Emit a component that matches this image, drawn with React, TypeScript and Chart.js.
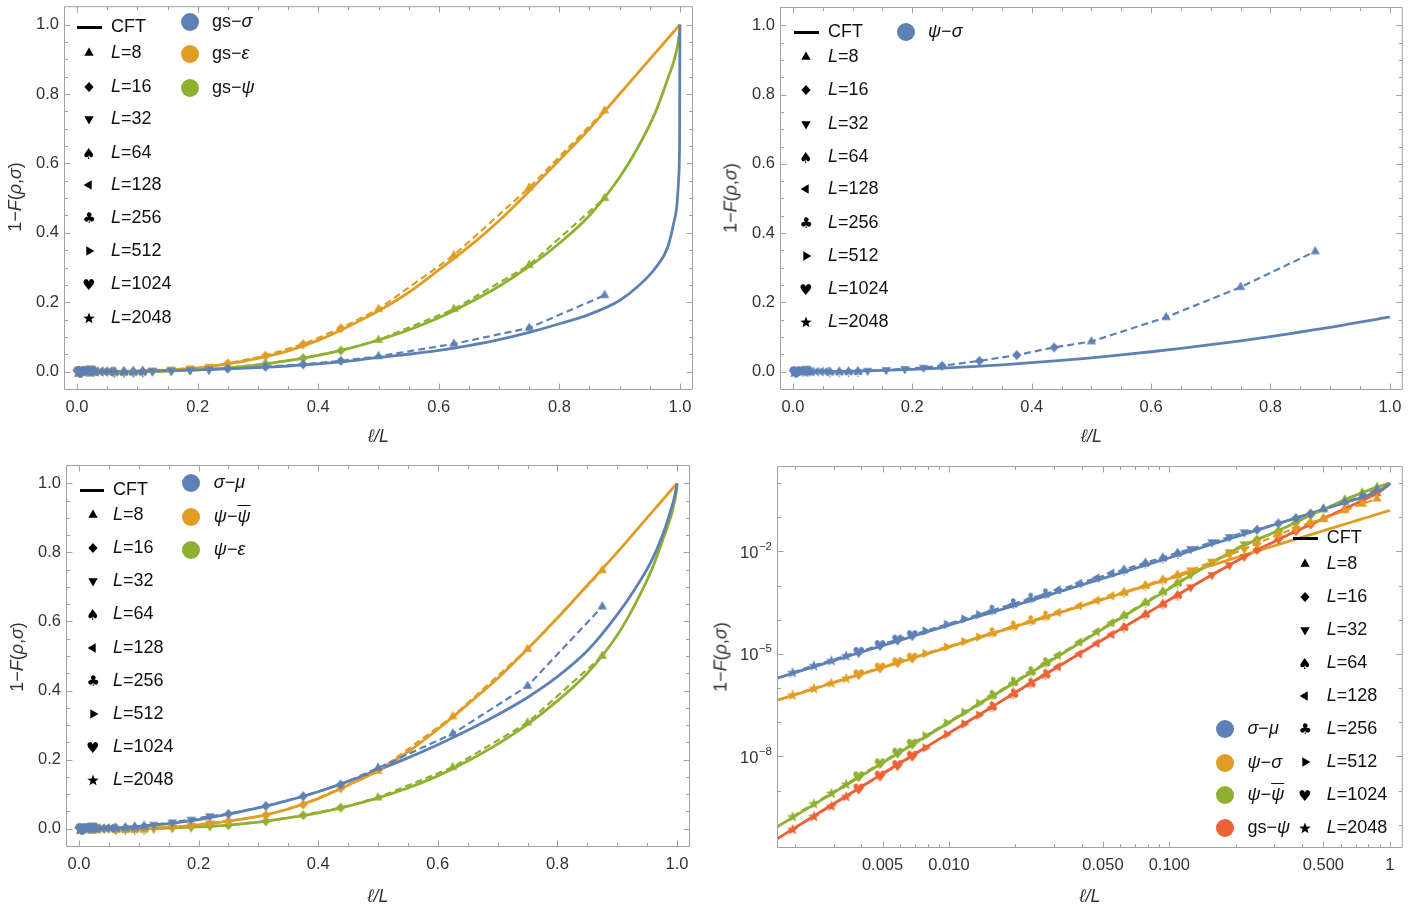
import React, { useEffect, useRef } from "react";
import { Chart, registerables } from "chart.js";

Chart.register(...registerables);

const BLUE = "#5E81B5";
const ORANGE = "#E19C24";
const GREEN = "#8FB131";
const RED = "#EB6235";

// ---------- CFT curves (sampled abscissae ℓ/L) ----------
const cftX = [0, 0.0015, 0.002, 0.003, 0.005, 0.007, 0.01, 0.015, 0.02, 0.03, 0.05, 0.07, 0.1, 0.15, 0.2, 0.25, 0.3, 0.35, 0.4, 0.45, 0.5, 0.55, 0.6, 0.65, 0.7, 0.75, 0.8, 0.85, 0.9, 0.93, 0.96, 0.98, 0.99, 0.995, 0.998, 0.9995, 1];

const cftGsSigma = [0, 3e-7, 5e-7, 1.1e-6, 3e-6, 6e-6, 1.2e-5, 2.8e-5, 5e-5, 1.1e-4, 3e-4, 6e-4, 0.0013, 0.0028, 0.005, 0.008, 0.0115, 0.016, 0.022, 0.03, 0.041, 0.05, 0.061, 0.075, 0.092, 0.113, 0.138, 0.165, 0.205, 0.245, 0.3, 0.36, 0.43, 0.48, 0.56, 0.68, 1];
const cftGsEps = [0, 7e-8, 1.2e-7, 3e-7, 9e-7, 2e-6, 4.5e-6, 1.2e-5, 2.3e-5, 6e-5, 2.2e-4, 5e-4, 0.0013, 0.0045, 0.011, 0.022, 0.038, 0.06, 0.09, 0.13, 0.175, 0.228, 0.293, 0.36, 0.435, 0.52, 0.61, 0.7, 0.8, 0.86, 0.92, 0.96, 0.98, 0.99, 0.996, 0.999, 1];
const cftGsPsi = [0, 2.57e-11, 8.1e-11, 4.1e-10, 3.1e-9, 1.17e-8, 4.8e-8, 2.34e-7, 7.4e-7, 3.6e-6, 2.63e-5, 9.5e-5, 3.8e-4, 1.78e-3, 5.0e-3, 0.011, 0.0195, 0.0316, 0.0468, 0.066, 0.091, 0.12, 0.155, 0.198, 0.246, 0.303, 0.37, 0.45, 0.56, 0.645, 0.75, 0.845, 0.895, 0.93, 0.96, 0.98, 1];
const cftPsiSigma = [0, 3.6e-7, 6.3e-7, 1.43e-6, 3.95e-6, 7.8e-6, 1.58e-5, 3.6e-5, 6.3e-5, 1.43e-4, 3.95e-4, 7.8e-4, 1.58e-3, 3.6e-3, 6.5e-3, 0.0101, 0.0146, 0.0198, 0.0258, 0.0325, 0.04, 0.0485, 0.0575, 0.0675, 0.078, 0.089, 0.101, 0.1145, 0.128, 0.137, 0.146, 0.152, 0.155, 0.1565, 0.1575, 0.158, 0.1585];
const cftSigmaMu = [0, 1.58e-6, 2.82e-6, 6.3e-6, 1.74e-5, 3.39e-5, 6.9e-5, 1.51e-4, 2.63e-4, 5.9e-4, 1.62e-3, 3.16e-3, 6.5e-3, 0.0148, 0.0263, 0.042, 0.06, 0.082, 0.107, 0.137, 0.17, 0.205, 0.243, 0.285, 0.33, 0.38, 0.44, 0.515, 0.62, 0.695, 0.785, 0.87, 0.925, 0.955, 0.98, 0.993, 1];
const cftPsiPsibar = [0, 5.75e-11, 1.78e-10, 8.7e-10, 6.46e-9, 2.4e-8, 9.8e-8, 4.8e-7, 1.48e-6, 7.2e-6, 5.4e-5, 2.0e-4, 8.1e-4, 4.0e-3, 0.0112, 0.022, 0.036, 0.057, 0.087, 0.126, 0.168, 0.222, 0.288, 0.36, 0.435, 0.52, 0.61, 0.705, 0.8, 0.86, 0.92, 0.96, 0.98, 0.99, 0.996, 0.999, 1];
const cftPsiEps = [0, 2.6e-11, 8e-11, 4e-10, 3.1e-9, 1.2e-8, 4.8e-8, 2.3e-7, 7.4e-7, 3.6e-6, 2.6e-5, 9.5e-5, 3.8e-4, 1.8e-3, 5e-3, 0.0105, 0.019, 0.031, 0.046, 0.065, 0.089, 0.118, 0.153, 0.196, 0.245, 0.302, 0.37, 0.45, 0.56, 0.65, 0.76, 0.855, 0.905, 0.94, 0.965, 0.985, 1];

// ---------- lattice data: L = 2048 ... 8, ℓ = 4..7 ----------
const latticeSizes = [2048, 1024, 512, 256, 128, 64, 32, 16, 8];
const latticeX = [
  4 / 2048, 5 / 2048, 6 / 2048, 7 / 2048,
  4 / 1024, 5 / 1024, 6 / 1024, 7 / 1024,
  4 / 512, 5 / 512, 6 / 512, 7 / 512,
  4 / 256, 5 / 256, 6 / 256, 7 / 256,
  4 / 128, 5 / 128, 6 / 128, 7 / 128,
  4 / 64, 5 / 64, 6 / 64, 7 / 64,
  4 / 32, 5 / 32, 6 / 32, 7 / 32,
  4 / 16, 5 / 16, 6 / 16, 7 / 16,
  4 / 8, 5 / 8, 6 / 8, 7 / 8,
];

const latGsSigma = [5e-7, 7.7e-7, 1.1e-6, 1.5e-6, 2e-6, 3.1e-6, 4.5e-6, 6.1e-6, 8e-6, 1.25e-5, 1.8e-5, 2.4e-5, 3.2e-5, 5e-5, 7.1e-5, 9.7e-5, 1.27e-4, 2e-4, 2.85e-4, 3.9e-4, 5.1e-4, 8e-4, 1.15e-3, 1.56e-3, 2.05e-3, 3.2e-3, 4.6e-3, 6.3e-3, 0.0085, 0.0135, 0.021, 0.031, 0.044, 0.08, 0.126, 0.22];
const latGsEps = [1.1e-7, 1.9e-7, 3e-7, 4.4e-7, 6.2e-7, 1.1e-6, 1.7e-6, 2.5e-6, 3.5e-6, 6e-6, 9.5e-6, 1.4e-5, 2e-5, 3.4e-5, 5.4e-5, 8e-5, 1.1e-4, 1.95e-4, 3.1e-4, 4.6e-4, 6.4e-4, 1.1e-3, 1.75e-3, 2.6e-3, 3.6e-3, 6.3e-3, 0.0098, 0.0145, 0.024, 0.046, 0.079, 0.125, 0.18, 0.335, 0.53, 0.752];
const latGsPsi = [7.4e-11, 1.78e-10, 3.6e-10, 6.8e-10, 1.15e-9, 2.75e-9, 5.6e-9, 1.05e-8, 1.78e-8, 4.4e-8, 8.9e-8, 1.62e-7, 2.75e-7, 6.6e-7, 1.35e-6, 2.45e-6, 4.2e-6, 1.0e-5, 2.04e-5, 3.7e-5, 6.2e-5, 1.48e-4, 2.95e-4, 5.4e-4, 8.9e-4, 2.04e-3, 3.98e-3, 6.9e-3, 0.011, 0.0225, 0.039, 0.061, 0.091, 0.18, 0.307, 0.5];
const latPsiSigma = [6.35e-7, 9.9e-7, 1.43e-6, 1.94e-6, 2.54e-6, 3.97e-6, 5.71e-6, 7.78e-6, 1.02e-5, 1.59e-5, 2.29e-5, 3.11e-5, 4.07e-5, 6.36e-5, 9.15e-5, 1.245e-4, 1.63e-4, 2.55e-4, 3.66e-4, 5.0e-4, 6.5e-4, 1.03e-3, 1.5e-3, 2.1e-3, 2.8e-3, 5.0e-3, 8.0e-3, 0.0115, 0.017, 0.031, 0.048, 0.07, 0.087, 0.157, 0.244, 0.347];
const latSigmaMu = [2.88e-6, 4.57e-6, 6.46e-6, 8.9e-6, 1.15e-5, 1.82e-5, 2.63e-5, 3.55e-5, 4.68e-5, 7.24e-5, 1.05e-4, 1.41e-4, 1.86e-4, 2.88e-4, 4.17e-4, 5.62e-4, 7.41e-4, 1.15e-3, 1.66e-3, 2.29e-3, 2.95e-3, 4.68e-3, 6.61e-3, 9.12e-3, 0.01175, 0.0186, 0.0263, 0.0363, 0.043, 0.066, 0.094, 0.128, 0.176, 0.275, 0.413, 0.643];
const latPsiPsibar = [1.74e-10, 4.17e-10, 8.5e-10, 1.55e-9, 2.63e-9, 6.3e-9, 1.29e-8, 2.34e-8, 3.98e-8, 9.5e-8, 1.95e-7, 3.55e-7, 6.0e-7, 1.45e-6, 2.95e-6, 5.4e-6, 9.1e-6, 2.19e-5, 4.47e-5, 8.1e-5, 1.38e-4, 3.3e-4, 6.8e-4, 1.23e-3, 2.09e-3, 4.9e-3, 9.5e-3, 0.0162, 0.022, 0.039, 0.07, 0.117, 0.167, 0.325, 0.52, 0.748];
const latPsiEps = [7.5e-11, 1.8e-10, 3.7e-10, 6.9e-10, 1.16e-9, 2.8e-9, 5.7e-9, 1.06e-8, 1.8e-8, 4.5e-8, 9e-8, 1.64e-7, 2.8e-7, 6.7e-7, 1.37e-6, 2.5e-6, 4.3e-6, 1.02e-5, 2.07e-5, 3.75e-5, 6.3e-5, 1.5e-4, 3e-4, 5.5e-4, 9e-4, 2.05e-3, 4.0e-3, 6.9e-3, 0.0105, 0.0215, 0.039, 0.061, 0.09, 0.178, 0.307, 0.5];

// ---------- ticks ----------
const linMajor = [0, 0.2, 0.4, 0.6, 0.8, 1.0];
const linLabels = ["0.0", "0.2", "0.4", "0.6", "0.8", "1.0"];
const linMinor = [0.05, 0.1, 0.15, 0.25, 0.3, 0.35, 0.45, 0.5, 0.55, 0.65, 0.7, 0.75, 0.85, 0.9, 0.95];
const logXMajor = [0.005, 0.01, 0.05, 0.1, 0.5, 1];
const logXLabels = ["0.005", "0.010", "0.050", "0.100", "0.500", "1"];
const logXMinor = [0.002, 0.003, 0.004, 0.006, 0.007, 0.008, 0.009, 0.02, 0.03, 0.04, 0.06, 0.07, 0.08, 0.09, 0.2, 0.3, 0.4, 0.6, 0.7, 0.8, 0.9];
const logYMajor = [1e-8, 1e-5, 1e-2];
const logYLabels = [["10", "−8"], ["10", "−5"], ["10", "−2"]];
const logYMinor = [1e-10, 1e-9, 1e-7, 1e-6, 1e-4, 1e-3, 1e-1, 1];

const legendSizes = [8, 16, 32, 64, 128, 256, 512, 1024, 2048];
const shapeForL: Record<number, string> = { 8: "up", 16: "diamond", 32: "down", 64: "♠", 128: "left", 256: "♣", 512: "right", 1024: "♥", 2048: "star" };

const markerCache = new Map<string, HTMLCanvasElement>();
function markerCanvas(shape: string, color: string): HTMLCanvasElement {
  const key = shape + color;
  const hit = markerCache.get(key);
  if (hit) return hit;
  const c = document.createElement("canvas");
  c.width = 22;
  c.height = 22;
  const ctx = c.getContext("2d")!;
  ctx.fillStyle = color;
  const cx = 11, cy = 11;
  const tri = (rot: number) => {
    const r = 5.4;
    ctx.beginPath();
    for (let k = 0; k < 3; k++) {
      const ang = rot + (k * 2 * Math.PI) / 3;
      const px = cx + r * Math.cos(ang), py = cy + r * Math.sin(ang);
      if (k === 0) ctx.moveTo(px, py); else ctx.lineTo(px, py);
    }
    ctx.closePath();
    ctx.fill();
  };
  if (shape === "up") tri(-Math.PI / 2);
  else if (shape === "down") tri(Math.PI / 2);
  else if (shape === "left") tri(Math.PI);
  else if (shape === "right") tri(0);
  else if (shape === "diamond") {
    ctx.beginPath();
    ctx.moveTo(cx, cy - 5); ctx.lineTo(cx + 4.6, cy); ctx.lineTo(cx, cy + 5); ctx.lineTo(cx - 4.6, cy);
    ctx.closePath(); ctx.fill();
  } else if (shape === "star") {
    ctx.beginPath();
    for (let k = 0; k < 10; k++) {
      const r = k % 2 === 0 ? 6 : 2.5;
      const ang = -Math.PI / 2 + (k * Math.PI) / 5;
      const px = cx + r * Math.cos(ang), py = cy + r * Math.sin(ang) + 0.5;
      if (k === 0) ctx.moveTo(px, py); else ctx.lineTo(px, py);
    }
    ctx.closePath(); ctx.fill();
  } else {
    ctx.font = '15px "DejaVu Sans"';
    ctx.textAlign = "left";
    ctx.textBaseline = "alphabetic";
    const m = ctx.measureText(shape);
    const l = m.actualBoundingBoxLeft, r = m.actualBoundingBoxRight;
    const a = m.actualBoundingBoxAscent, d = m.actualBoundingBoxDescent;
    ctx.fillText(shape, cx - (r - l) / 2, cy + (a - d) / 2);
  }
  markerCache.set(key, c);
  return c;
}

type Lbl = string | string[];
interface TickSpec { major: number[]; labels: Lbl[]; minor: number[] }
interface Series { cft: number[]; lat: number[]; color: string }
interface PanelSpec {
  id: string;
  left: number; top: number; w: number; h: number;
  pad: { left: number; right: number; top: number; bottom: number };
  log: boolean;
  xMin: number; xMax: number; yMin: number; yMax: number;
  xt: TickSpec; yt: TickSpec;
  series: Series[];
}

const TICK_FONT = '16.5px "Liberation Sans", Arial, sans-serif';

function framePlugin(xt: TickSpec, yt: TickSpec) {
  return {
    id: "mmaFrame",
    afterDraw(chart: any) {
      const { ctx, chartArea: a } = chart;
      const xs = chart.scales.x, ys = chart.scales.y;
      ctx.save();
      ctx.strokeStyle = "#a2a2a2";
      ctx.lineWidth = 1;
      const L = a.left + 0.5, R = a.right - 0.5, T = a.top + 0.5, B = a.bottom - 0.5;
      ctx.beginPath();
      ctx.rect(L, T, R - L, B - T);
      const seg = (x1: number, y1: number, x2: number, y2: number) => { ctx.moveTo(x1, y1); ctx.lineTo(x2, y2); };
      const tx = (v: number, len: number) => {
        const p = Math.round(xs.getPixelForValue(v)) + 0.5;
        if (p < L || p > R) return;
        seg(p, B, p, B - len); seg(p, T, p, T + len);
      };
      const ty = (v: number, len: number) => {
        const p = Math.round(ys.getPixelForValue(v)) + 0.5;
        if (p < T || p > B) return;
        seg(L, p, L + len, p); seg(R, p, R - len, p);
      };
      xt.major.forEach((v) => tx(v, 6));
      xt.minor.forEach((v) => tx(v, 3.5));
      yt.major.forEach((v) => ty(v, 6));
      yt.minor.forEach((v) => ty(v, 3.5));
      ctx.stroke();

      ctx.fillStyle = "#333";
      ctx.font = TICK_FONT;
      ctx.textBaseline = "middle";
      ctx.textAlign = "center";
      xt.major.forEach((v, i) => {
        ctx.fillText(xt.labels[i] as string, xs.getPixelForValue(v), a.bottom + 17);
      });
      yt.major.forEach((v, i) => {
        const p = ys.getPixelForValue(v);
        const lb = yt.labels[i];
        if (typeof lb === "string") {
          ctx.textAlign = "right";
          ctx.font = TICK_FONT;
          ctx.fillText(lb, a.left - 5, p);
        } else {
          ctx.textAlign = "right";
          ctx.font = '11.5px "Liberation Sans", Arial, sans-serif';
          const ew = ctx.measureText(lb[1]).width;
          ctx.fillText(lb[1], a.left - 5, p - 5);
          ctx.font = TICK_FONT;
          ctx.fillText(lb[0], a.left - 5 - ew - 0.5, p + 2);
        }
      });
      ctx.restore();
    },
  };
}

function buildConfig(spec: PanelSpec): any {
  const datasets: any[] = [];
  spec.series.forEach((s) => {
    datasets.push({
      data: latticeX.map((x, i) => ({ x, y: s.lat[i] })),
      showLine: true,
      borderColor: s.color,
      backgroundColor: s.color,
      borderWidth: 2.2,
      borderDash: [7, 4],
      pointStyle: latticeX.map((_, i) => markerCanvas(shapeForL[latticeSizes[Math.floor(i / 4)]], s.color)),
      pointRadius: 4,
      pointHoverRadius: 4,
      fill: false,
    });
  });
  spec.series.forEach((s) => {
    datasets.push({
      data: cftX.map((x, i) => ({ x, y: s.cft[i] })).filter((p) => !spec.log || (p.x > 0 && p.y > 0)),
      showLine: true,
      borderColor: s.color,
      backgroundColor: s.color,
      borderWidth: 2.8,
      pointRadius: 0,
      pointHoverRadius: 0,
      cubicInterpolationMode: "monotone",
      fill: false,
    });
  });
  return {
    type: "scatter",
    data: { datasets },
    options: {
      animation: false,
      responsive: false,
      maintainAspectRatio: false,
      events: [],
      layout: { padding: spec.pad },
      plugins: { legend: { display: false }, tooltip: { enabled: false } },
      scales: {
        x: { type: spec.log ? "logarithmic" : "linear", min: spec.xMin, max: spec.xMax, display: false },
        y: { type: spec.log ? "logarithmic" : "linear", min: spec.yMin, max: spec.yMax, display: false },
      },
    },
    plugins: [framePlugin(spec.xt, spec.yt)],
  };
}

const linTicks: TickSpec = { major: linMajor, labels: linLabels, minor: linMinor };

const panels: PanelSpec[] = [
  {
    id: "A", left: 0, top: 0, w: 704, h: 455,
    pad: { left: 64, right: 11, top: 3, bottom: 65 },
    log: false, xMin: -0.0217, xMax: 1.0217, yMin: -0.053, yMax: 1.053,
    xt: linTicks, yt: linTicks,
    series: [
      { cft: cftGsSigma, lat: latGsSigma, color: BLUE },
      { cft: cftGsEps, lat: latGsEps, color: ORANGE },
      { cft: cftGsPsi, lat: latGsPsi, color: GREEN },
    ],
  },
  {
    id: "B", left: 704, top: 0, w: 705, h: 455,
    pad: { left: 76, right: 6, top: 7, bottom: 65 },
    log: false, xMin: -0.0217, xMax: 1.0217, yMin: -0.053, yMax: 1.053,
    xt: linTicks, yt: linTicks,
    series: [{ cft: cftPsiSigma, lat: latPsiSigma, color: BLUE }],
  },
  {
    id: "C", left: 0, top: 455, w: 704, h: 458,
    pad: { left: 66, right: 14, top: 10, bottom: 66 },
    log: false, xMin: -0.0217, xMax: 1.0217, yMin: -0.053, yMax: 1.053,
    xt: linTicks, yt: linTicks,
    series: [
      { cft: cftSigmaMu, lat: latSigmaMu, color: BLUE },
      { cft: cftPsiPsibar, lat: latPsiPsibar, color: ORANGE },
      { cft: cftPsiEps, lat: latPsiEps, color: GREEN },
    ],
  },
  {
    id: "D", left: 704, top: 455, w: 705, h: 458,
    pad: { left: 73, right: 6, top: 11, bottom: 65 },
    log: true, xMin: 0.00166, xMax: 1.146, yMin: 2.08e-11, yMax: 3.145,
    xt: { major: logXMajor, labels: logXLabels, minor: logXMinor },
    yt: { major: logYMajor, labels: logYLabels, minor: logYMinor },
    series: [
      { cft: cftSigmaMu, lat: latSigmaMu, color: BLUE },
      { cft: cftPsiSigma, lat: latPsiSigma, color: ORANGE },
      { cft: cftPsiPsibar, lat: latPsiPsibar, color: GREEN },
      { cft: cftGsPsi, lat: latGsPsi, color: RED },
    ],
  },
];

function ChartPanel({ spec }: { spec: PanelSpec }) {
  const ref = useRef<HTMLCanvasElement>(null);
  useEffect(() => {
    const chart = new Chart(ref.current!, buildConfig(spec));
    return () => chart.destroy();
  }, [spec]);
  return (
    <canvas
      ref={ref}
      width={spec.w}
      height={spec.h}
      style={{ position: "absolute", left: spec.left, top: spec.top, width: spec.w, height: spec.h }}
    />
  );
}

const LEG_FONT = '18px "Liberation Sans", Arial, sans-serif';

function Txt({ x, y, children }: { x: number; y: number; children: any }) {
  return (
    <div style={{ position: "absolute", left: x, top: y - 11, height: 22, lineHeight: "22px", font: LEG_FONT, whiteSpace: "nowrap", color: "#111" }}>
      {children}
    </div>
  );
}
function Mk({ x, y, g }: { x: number; y: number; g: string }) {
  return <img src={markerCanvas(g, "#000").toDataURL()} style={{ position: "absolute", left: x - 11, top: y - 11, width: 22, height: 22 }} />;
}
function Dot({ x, y, color }: { x: number; y: number; color: string }) {
  return <div style={{ position: "absolute", left: x - 9, top: y - 9, width: 18, height: 18, borderRadius: 9, background: color }} />;
}
function CftKey({ x1, x2, y }: { x1: number; x2: number; y: number }) {
  return <div style={{ position: "absolute", left: x1, top: y - 1.5, width: x2 - x1, height: 3, background: "#000" }} />;
}

function SizeLegend({ mx, tx, cftY, lineX1, lineX2, rows }: { mx: number; tx: number; cftY: number; lineX1: number; lineX2: number; rows: number[] }) {
  return (
    <>
      <CftKey x1={lineX1} x2={lineX2} y={cftY} />
      <Txt x={tx} y={cftY}>CFT</Txt>
      {legendSizes.map((L, i) => (
        <React.Fragment key={L}>
          <Mk x={mx} y={rows[i]} g={shapeForL[L]} />
          <Txt x={tx} y={rows[i]}><i>L</i>={L}</Txt>
        </React.Fragment>
      ))}
    </>
  );
}

const psibar = <i style={{ textDecoration: "overline" }}>ψ</i>;

function XTitle({ x, y }: { x: number; y: number }) {
  return (
    <div style={{ position: "absolute", left: x, top: y, transform: "translate(-50%,-50%)", font: 'italic 18px "Liberation Sans", Arial, sans-serif', color: "#333", whiteSpace: "nowrap" }}>
      ℓ/L
    </div>
  );
}
function YTitle({ x, y }: { x: number; y: number }) {
  return (
    <div style={{ position: "absolute", left: x, top: y, transform: "translate(-50%,-50%) rotate(-90deg)", font: '18px "Liberation Sans", Arial, sans-serif', color: "#333", whiteSpace: "nowrap" }}>
      1−<i>F</i>(<i>ρ</i>,<i>σ</i>)
    </div>
  );
}

export default function App() {
  return (
    <div style={{ position: "absolute", left: 0, top: 0, width: 1409, height: 913, background: "#fff", overflow: "hidden" }}>
      {panels.map((p) => <ChartPanel key={p.id} spec={p} />)}

      {/* Panel A legend */}
      <SizeLegend mx={89} tx={111} cftY={27} lineX1={77} lineX2={102} rows={[53.3, 86.7, 119.3, 152.7, 185.3, 218.3, 251, 284.3, 317.7]} />
      <Dot x={190} y={21.7} color={BLUE} />
      <Txt x={212} y={21.7}>gs−<i>σ</i></Txt>
      <Dot x={190} y={54.3} color={ORANGE} />
      <Txt x={212} y={54.3}>gs−<i>ε</i></Txt>
      <Dot x={190} y={87.7} color={GREEN} />
      <Txt x={212} y={87.7}>gs−<i>ψ</i></Txt>

      {/* Panel B legend */}
      <SizeLegend mx={805.5} tx={828} cftY={32.3} lineX1={794} lineX2={819} rows={[57.3, 90, 124, 157, 189.3, 223, 256, 289, 322]} />
      <Dot x={906} y={32.3} color={BLUE} />
      <Txt x={928} y={32.3}><i>ψ</i>−<i>σ</i></Txt>

      {/* Panel C legend */}
      <SizeLegend mx={92.6} tx={113} cftY={490} lineX1={80} lineX2={104} rows={[515, 548.3, 581, 614, 647.7, 681, 714, 746.7, 780]} />
      <Dot x={191} y={483.3} color={BLUE} />
      <Txt x={213.8} y={483.3}><i>σ</i>−<i>μ</i></Txt>
      <Dot x={191} y={516.7} color={ORANGE} />
      <Txt x={213.8} y={516.7}><i>ψ</i>−{psibar}</Txt>
      <Dot x={191} y={550} color={GREEN} />
      <Txt x={213.8} y={550}><i>ψ</i>−<i>ε</i></Txt>

      {/* Panel D legend */}
      <SizeLegend mx={1305.4} tx={1326.7} cftY={538.3} lineX1={1293} lineX2={1318} rows={[564.3, 596.7, 630, 662.7, 695.7, 728.7, 761.7, 795, 828.3]} />
      <Dot x={1225} y={729.3} color={BLUE} />
      <Txt x={1247.5} y={729.3}><i>σ</i>−<i>μ</i></Txt>
      <Dot x={1225} y={762.7} color={ORANGE} />
      <Txt x={1247.5} y={762.7}><i>ψ</i>−<i>σ</i></Txt>
      <Dot x={1225} y={795} color={GREEN} />
      <Txt x={1247.5} y={795}><i>ψ</i>−{psibar}</Txt>
      <Dot x={1225} y={828.3} color={RED} />
      <Txt x={1247.5} y={828.3}>gs−<i>ψ</i></Txt>

      {/* Axis titles */}
      <XTitle x={378.5} y={436} />
      <XTitle x={1091.5} y={436} />
      <XTitle x={378} y={896} />
      <XTitle x={1090} y={896} />
      <YTitle x={15} y={197} />
      <YTitle x={731} y={198} />
      <YTitle x={17} y={657} />
      <YTitle x={721} y={657} />
    </div>
  );
}
